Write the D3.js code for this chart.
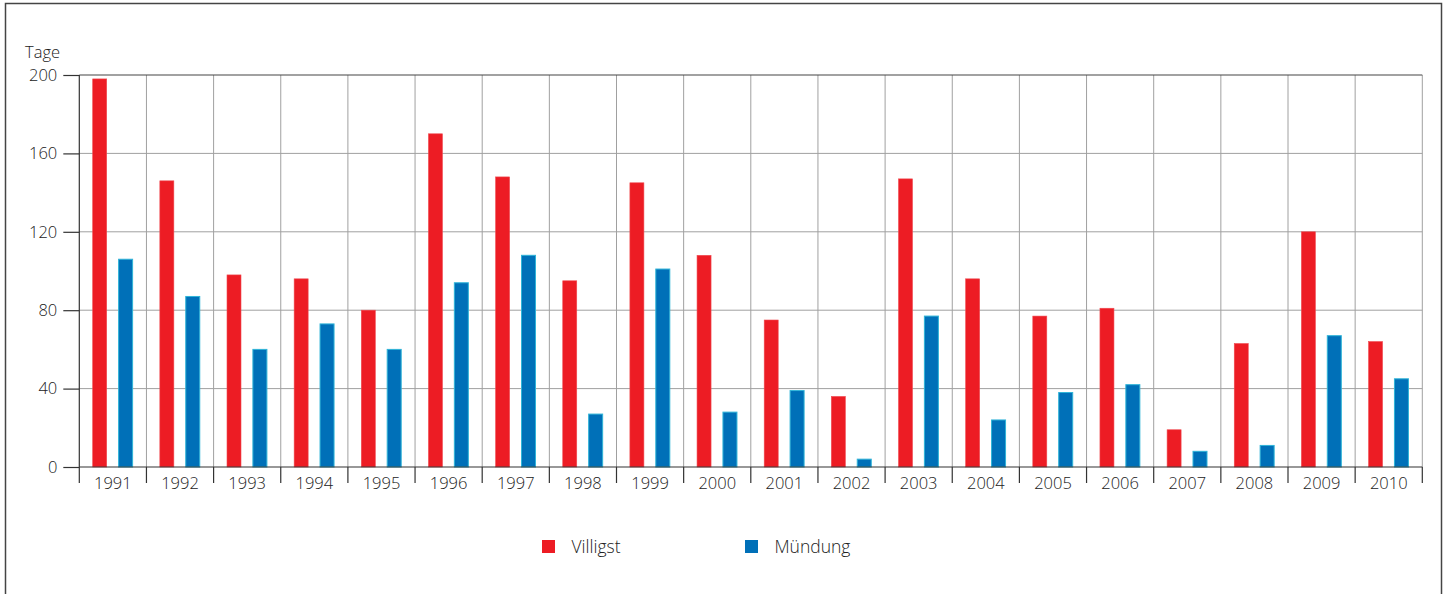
<!DOCTYPE html>
<html>
<head>
<meta charset="utf-8">
<script src="https://cdn.jsdelivr.net/npm/d3@7"></script>
<style>
  body { margin: 0; background: #fff; }
  text { font-family: "Open Sans", "Noto Sans", sans-serif; font-weight: 300; fill: #222; }
</style>
</head>
<body>
<svg id="chart"></svg>
<script>
var years = ["1991", "1992", "1993", "1994", "1995", "1996", "1997", "1998", "1999", "2000",
  "2001", "2002", "2003", "2004", "2005", "2006", "2007", "2008", "2009", "2010"];
var villigst = [198, 146, 98, 96, 80, 170, 148, 95, 145, 108, 75, 36, 147, 96, 77, 81, 19, 63, 120, 64];
var muendung = [106, 87, 60, 73, 60, 94, 108, 27, 101, 28, 39, 4, 77, 24, 38, 42, 8, 11, 67, 45];
var yTicks = [0, 40, 80, 120, 160, 200];
var seriesNames = ["Villigst", "Mündung"];

var RED = "#ed1c24", BLUE = "#0070b8";

var width = 1448, height = 594;
var plot = { left: 79.3, right: 1422.3, top: 75, bottom: 467 };

var svg = d3.select("#chart").attr("width", width).attr("height", height);

// outer frame
svg.append("rect")
  .attr("x", 5.5).attr("y", 3.5)
  .attr("width", 1436).attr("height", 600)
  .attr("fill", "none").attr("stroke", "#444").attr("stroke-width", 1.5);

var x = d3.scaleBand().domain(years).range([plot.left, plot.right]);
var y = d3.scaleLinear().domain([0, 200]).range([plot.bottom, plot.top]);

// horizontal grid
svg.append("g").selectAll("line")
  .data(yTicks.filter(function (d) { return d > 0 && d < 200; }))
  .enter().append("line")
  .attr("x1", plot.left).attr("x2", plot.right)
  .attr("y1", function (d) { return y(d); }).attr("y2", function (d) { return y(d); })
  .attr("stroke", "#a0a0a0").attr("stroke-width", 1);

// vertical grid
var bounds = years.map(function (d) { return x(d); }).slice(1).concat([plot.right]);
svg.append("g").selectAll("line")
  .data(bounds)
  .enter().append("line")
  .attr("x1", function (d) { return d; }).attr("x2", function (d) { return d; })
  .attr("y1", plot.top).attr("y2", plot.bottom)
  .attr("stroke", "#a0a0a0").attr("stroke-width", 1);

// bars
var bw = 14;
var g = svg.append("g");
g.selectAll(".red").data(villigst).enter().append("rect")
  .attr("x", function (d, i) { return x(years[i]) + 13.4; })
  .attr("y", function (d) { return y(d); })
  .attr("width", bw)
  .attr("height", function (d) { return y(0) - y(d); })
  .attr("fill", RED).attr("stroke", "#f04a50").attr("stroke-width", 0.6);
g.selectAll(".blue").data(muendung).enter().append("rect")
  .attr("x", function (d, i) { return x(years[i]) + 39.3; })
  .attr("y", function (d) { return y(d); })
  .attr("width", bw)
  .attr("height", function (d) { return y(0) - y(d); })
  .attr("fill", BLUE).attr("stroke", "#2fb4d8").attr("stroke-width", 1);

// top line
svg.append("line")
  .attr("x1", plot.left).attr("x2", plot.right)
  .attr("y1", plot.top).attr("y2", plot.top)
  .attr("stroke", "#444").attr("stroke-width", 1.2);

// y axis
var yAxis = d3.axisLeft(y).tickValues(yTicks).tickSize(16).tickPadding(6);
var ya = svg.append("g").attr("transform", "translate(" + plot.left + ",0)").call(yAxis);
ya.select(".domain").remove();
ya.selectAll(".tick line").attr("stroke", "#333").attr("stroke-width", 1.2);
ya.selectAll(".tick text").style("font-size", "16.5px").attr("fill", "#222");
svg.append("line")
  .attr("x1", plot.left).attr("x2", plot.left)
  .attr("y1", plot.top).attr("y2", plot.bottom + 16)
  .attr("stroke", "#333").attr("stroke-width", 1.2);

// x axis
svg.append("line")
  .attr("x1", plot.left).attr("x2", plot.right)
  .attr("y1", plot.bottom).attr("y2", plot.bottom)
  .attr("stroke", "#333").attr("stroke-width", 1.2);
svg.append("g").selectAll("line")
  .data(bounds)
  .enter().append("line")
  .attr("x1", function (d) { return d; }).attr("x2", function (d) { return d; })
  .attr("y1", plot.bottom).attr("y2", plot.bottom + 16)
  .attr("stroke", "#333").attr("stroke-width", 1.2);
svg.append("g").selectAll("text")
  .data(years)
  .enter().append("text")
  .attr("x", function (d) { return x(d) + x.bandwidth() / 2; })
  .attr("y", 488.5)
  .attr("text-anchor", "middle")
  .style("font-size", "16.5px")
  .text(function (d) { return d; });

// unit label
svg.append("text").attr("x", 25).attr("y", 58)
  .style("font-size", "16.5px").text("Tage");

// legend
var legend = svg.append("g");
var lx = [542, 745];
legend.selectAll("rect").data(seriesNames).enter().append("rect")
  .attr("x", function (d, i) { return lx[i]; })
  .attr("y", 540)
  .attr("width", 13).attr("height", 13)
  .attr("fill", function (d, i) { return i === 0 ? RED : BLUE; });
legend.selectAll("text").data(seriesNames).enter().append("text")
  .attr("x", function (d, i) { return lx[i] + 29.5; })
  .attr("y", 553)
  .style("font-size", "17.5px")
  .text(function (d) { return d; });
</script>
</body>
</html>
